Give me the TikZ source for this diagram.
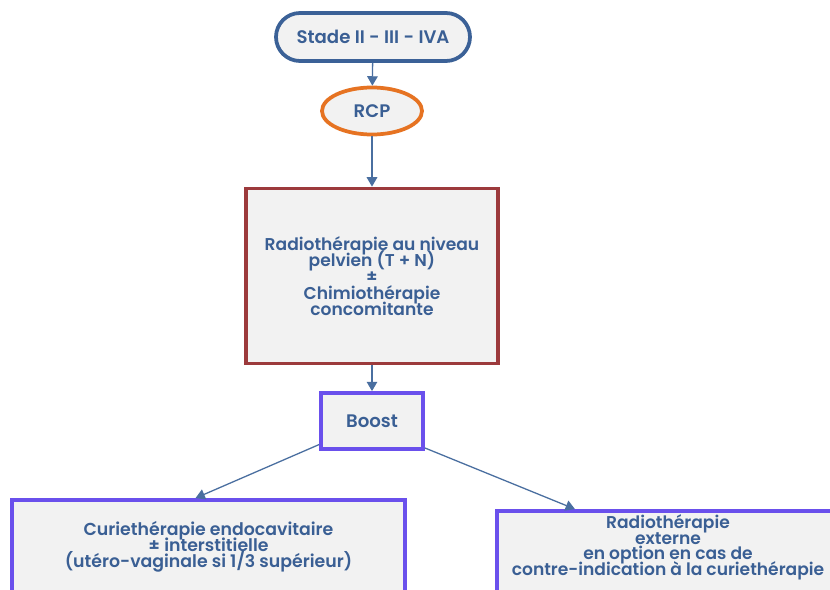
\documentclass[tikz,border=0pt]{standalone}
\usepackage{fontspec}
\setmainfont{Poppins}[BoldFont={* SemiBold}]
\usetikzlibrary{arrows.meta, positioning, shapes.geometric}
\definecolor{txtBlue}{HTML}{3A5F94}
\definecolor{lineBlue}{HTML}{4A6FA0}
\definecolor{stadeBlue}{HTML}{3B6197}
\definecolor{rcpOrange}{HTML}{E67322}
\definecolor{boxRed}{HTML}{9C3A3C}
\definecolor{boostPurple}{HTML}{6A50EC}
\definecolor{boxFill}{HTML}{F2F2F2}
\lineskiplimit=-20pt

\begin{document}
\begin{tikzpicture}[x=0.03cm, y=-0.03cm,
    every node/.style={text=txtBlue, font=\bfseries, align=center, inner sep=0pt},
    stadebox/.style={draw=stadeBlue, fill=boxFill, line width=3.2pt, rounded corners=0.72cm, minimum width=5.82cm, minimum height=1.44cm},
    rcpbox/.style={ellipse, draw=rcpOrange, fill=boxFill, line width=3.2pt, minimum width=3.0cm, minimum height=1.41cm},
    treatbox/.style={draw=boxRed, fill=boxFill, line width=3.2pt, minimum width=7.56cm, minimum height=5.25cm},
    boostbox/.style={draw=boostPurple, fill=boxFill, line width=3.2pt},
    link/.style={-{Triangle[width=9pt, length=8pt]}, lineBlue, line width=1.1pt}]
    \clip (0,0) rectangle (830,590);
    \fill[white] (0,0) rectangle (830,590);
    \node[stadebox, font=\bfseries\fontsize{15.5}{16}\selectfont] (stade) at (373,37) {Stade II - III - IVA};
    \node[rcpbox, font=\bfseries\fontsize{15.5}{16}\selectfont] (rcp) at (372,111) {RCP};
    \node[treatbox, font=\bfseries\fontsize{14.6}{14}\selectfont] (radio) at (372,276)
        {Radiothérapie au niveau\\pelvien (T + N)\\±\\Chimiothérapie\\concomitante};
    \node[boostbox, minimum width=3.06cm, minimum height=1.68cm, font=\bfseries\fontsize{15.5}{16}\selectfont] (boost) at (372,421) {Boost};
    \node[boostbox, minimum width=11.79cm, minimum height=2.82cm, font=\bfseries\fontsize{14.8}{13.4}\selectfont] (curie) at (208.5,547)
        {Curiethérapie endocavitaire\\± interstitielle\\(utéro-vaginale si 1/3 supérieur)};
    \node[boostbox, minimum width=10.26cm, minimum height=2.52cm] (rte) at (668,553) {};
    \node[font=\bfseries\fontsize{14.6}{13.4}\selectfont, below=4.4pt of rte.north] (rtetext)
        {Radiothérapie\\externe\\en option en cas de\\contre-indication à la curiethérapie};
    \draw[link] (stade) -- (rcp);
    \draw[link] (rcp) -- (radio);
    \draw[link] (radio) -- (boost);
    \draw[link] (boost.204) -- ([xshift=-0.39cm]curie.north);
    \draw[link] (boost.333) -- ([xshift=-2.79cm]rte.north);
\end{tikzpicture}
\end{document}
